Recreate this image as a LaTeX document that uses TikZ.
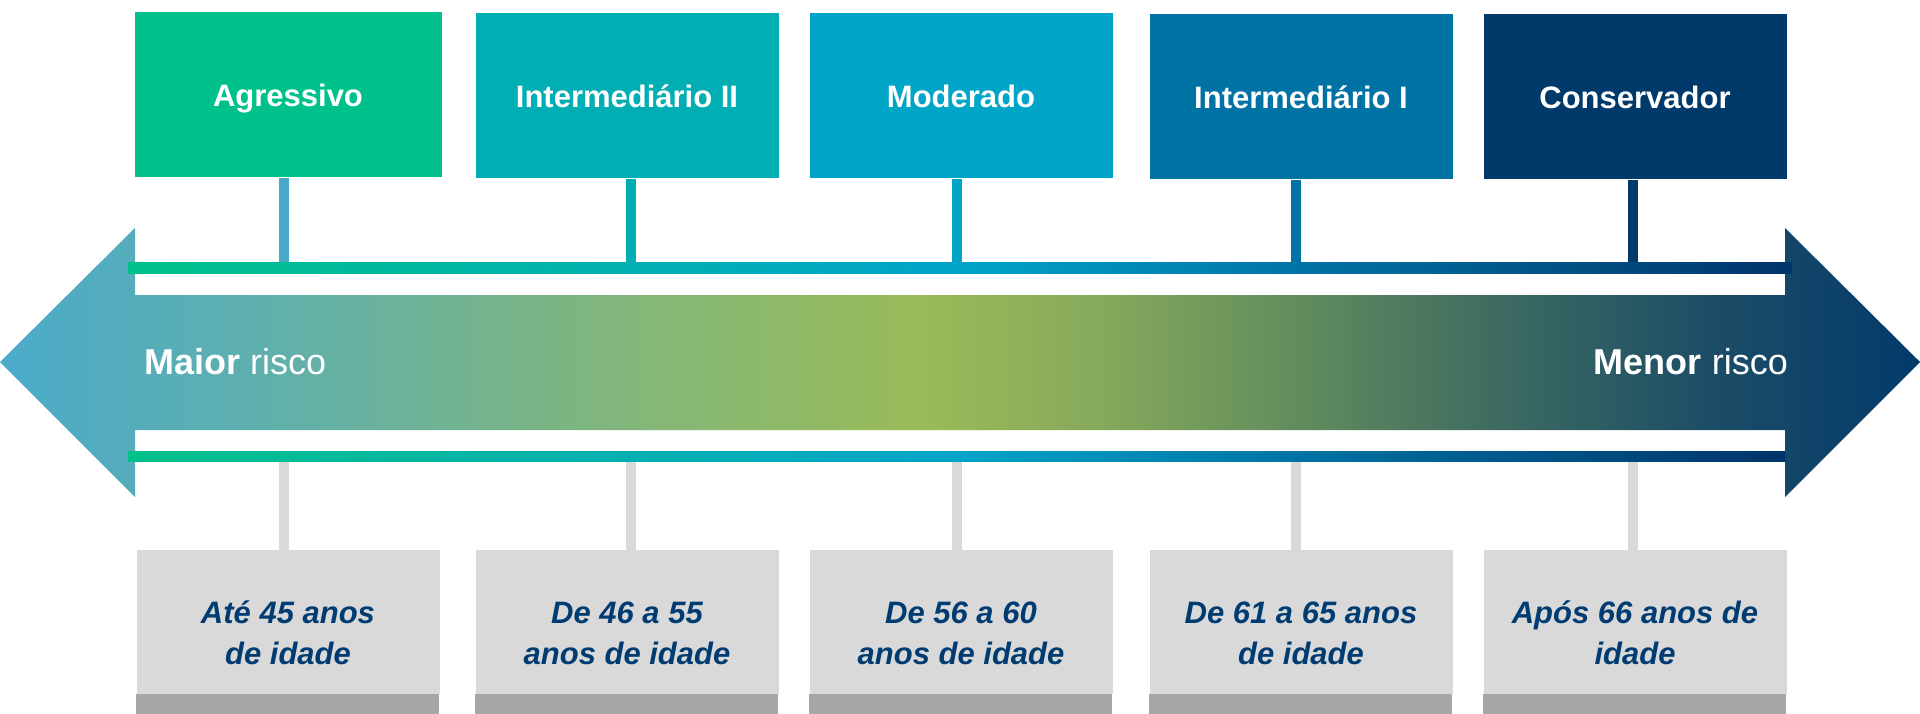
\documentclass[tikz,border=0pt]{standalone}
\usepackage{fontspec}
\setmainfont{Liberation Sans}
\usetikzlibrary{positioning}

\definecolor{agrgreen}{HTML}{00C18B}
\definecolor{intteal}{HTML}{00AEB3}
\definecolor{modblue}{HTML}{00A5C8}
\definecolor{intblue}{HTML}{0072A3}
\definecolor{consnavy}{HTML}{003A6B}
\definecolor{stemblue}{HTML}{4AA9C8}
\definecolor{agetext}{HTML}{003C71}
\definecolor{agegray}{HTML}{D9D9D9}
\definecolor{stripgray}{HTML}{A6A6A6}
% arrow colours, left to right
\definecolor{arra}{HTML}{4BABCA}
\definecolor{arrb}{HTML}{62B0A8}
\definecolor{arrc}{HTML}{80B67E}
\definecolor{arrd}{HTML}{9ABB58}
\definecolor{arre}{HTML}{86A95B}
\definecolor{arrf}{HTML}{658F5D}
\definecolor{arrg}{HTML}{3E6B61}
\definecolor{arrh}{HTML}{1D4E66}
\definecolor{arri}{HTML}{033A6B}
% line colours
\definecolor{lina}{HTML}{00C18B}
\definecolor{linb}{HTML}{00B0B1}
\definecolor{linc}{HTML}{00A5C9}
\definecolor{lind}{HTML}{0073A4}
\definecolor{line}{HTML}{00346A}

\pgfdeclarehorizontalshading{riskarrow}{100bp}{color(0bp)=(arra); color(25bp)=(arra); color(32.8bp)=(arrb); color(40.6bp)=(arrc); color(49bp)=(arrd); color(53.6bp)=(arre); color(58.3bp)=(arrf); color(64bp)=(arrg); color(69.3bp)=(arrh); color(75bp)=(arri); color(100bp)=(arri)}
\pgfdeclarehorizontalshading{riskline}{100bp}{color(0bp)=(lina); color(25bp)=(lina); color(40.1bp)=(linb); color(49.9bp)=(linc); color(60.2bp)=(lind); color(75bp)=(line); color(100bp)=(line)}

\newcommand{\agestrut}{\rule{0pt}{44pt}}

\begin{document}
\begin{tikzpicture}[x=1pt,y=-1pt,
  riskbox/.style={minimum width=303,minimum height=165,inner sep=0,text depth=0,text=white,font=\fontsize{31}{37}\selectfont\bfseries},
  agebox/.style={fill=agegray,minimum width=303,minimum height=144,inner sep=0,align=center,text=agetext,font=\fontsize{31}{41}\selectfont\bfseries\itshape},
  stem/.style={line width=10},
  risktext/.style={text=white,font=\fontsize{36}{43}\selectfont,inner sep=0}]
\useasboundingbox (0,0) rectangle (1920,714);

% arrow
\shade[shading=riskarrow] (0,362) -- (135,228) -- (135,295) -- (1785,295) -- (1785,228) -- (1920,362) -- (1785,497) -- (1785,430) -- (135,430) -- (135,497) -- cycle;
\node[risktext,anchor=west] (maior) at (144,362) {\textbf{Maior} risco};
\node[risktext,anchor=east] (menor) at (1788,362) {\textbf{Menor} risco};

% profiles
\node[riskbox,fill=agrgreen,minimum width=307] (agr) at (288,95) {Agressivo};
\node[riskbox,fill=intteal] (int2) at (627,96) {Intermediário II};
\node[riskbox,fill=modblue] (mod) at (961,96) {Moderado};
\node[riskbox,fill=intblue] (int1) at (1301,97) {Intermediário I};
\node[riskbox,fill=consnavy] (cons) at (1635,97) {Conservador};

% ages
\node[agebox] (age1) at (288,622) {\agestrut Até 45 anos\\de idade};
\node[agebox] (age2) at (627,622) {\agestrut De 46 a 55\\anos de idade};
\node[agebox] (age3) at (961,622) {\agestrut De 56 a 60\\anos de idade};
\node[agebox] (age4) at (1301,622) {\agestrut De 61 a 65 anos\\de idade};
\node[agebox] (age5) at (1635,622) {\agestrut Após 66 anos de\\idade};
\foreach \a in {age1,age2,age3,age4,age5}
  \fill[stripgray] (\a.south west) rectangle ++(303,22);

\coordinate (topline) at (0,263);
\coordinate (botline) at (0,461);
\foreach \p/\a/\c/\dx in {agr/age1/stemblue/-4,int2/age2/intteal/4,mod/age3/modblue/-4,int1/age4/intblue/-5,cons/age5/consnavy/-2}{
  \draw[stem,\c] ([xshift=\dx]\p.south) -- ([xshift=\dx]\p.south |- topline);
  \draw[stem,agegray] ([xshift=\dx]botline -| \a.north) -- ([xshift=\dx]\a.north);
}

\shade[shading=riskline] (128,263) rectangle (1792,273);
\shade[shading=riskline] (128,451) rectangle (1785,461);
\end{tikzpicture}
\end{document}
